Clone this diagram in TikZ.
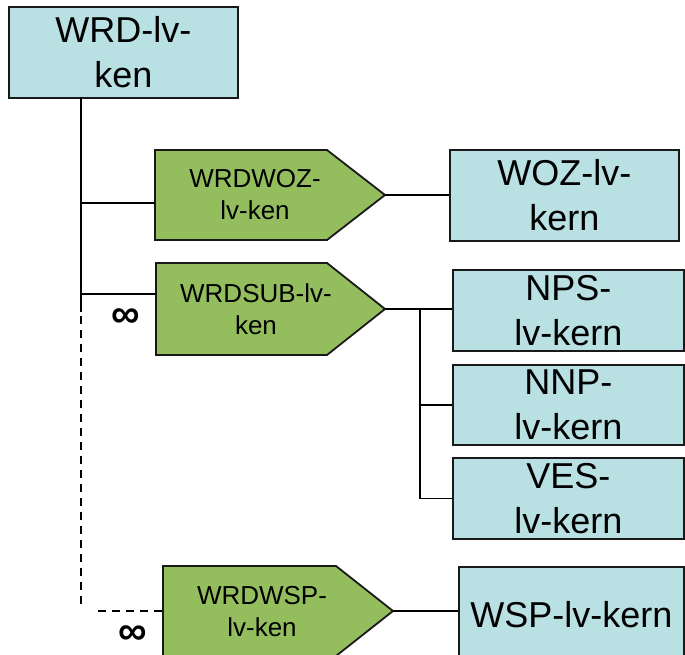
\documentclass[tikz,border=0pt]{standalone}
\usepackage{fontspec}
\setmainfont{Liberation Sans}
\definecolor{boxblue}{HTML}{B9E0E3}
\definecolor{pentgreen}{HTML}{94BE5E}
\tikzset{
  bluebox/.style={draw=black!90, line width=1.8pt, fill=boxblue, inner sep=0pt, align=center, anchor=north west, font=\fontsize{36}{45}\selectfont},
  pentshape/.style={draw=black!90, line width=1.8pt, fill=pentgreen, line join=miter},
  penttext/.style={inner sep=0pt, align=center, font=\fontsize{26}{32}\selectfont},
  conn/.style={line width=1.5pt, black},
  dconn/.style={line width=1.5pt, black, dash pattern=on 8pt off 6pt},
  inf/.style={inner sep=0pt, font=\fontsize{40}{40}\selectfont\bfseries}
}
\begin{document}
\begin{tikzpicture}[x=1pt,y=-1pt]
\clip (0,0) rectangle (685,655);
\fill[white] (0,0) rectangle (685,655);
% top box
\node[bluebox, minimum width=229pt, minimum height=91pt] (wrd) at (8,6) {WRD-lv-\\ken};
% pentagons
\draw[pentshape] (155,150) -- (327,150) -- (385,195) -- (327,240) -- (155,240) -- cycle;
\node[penttext] (woz) at (255,195) {WRDWOZ-\\lv-ken};
\coordinate (wozl) at (155,203);
\coordinate (wozt) at (385,195);
\draw[pentshape] (156,263) -- (327,263) -- (385,309) -- (327,355) -- (156,355) -- cycle;
\node[penttext] (sub) at (256,309) {WRDSUB-lv-\\ken};
\coordinate (subl) at (156,294);
\coordinate (subt) at (385,309);
\draw[pentshape] (163,566) -- (336,566) -- (393,611) -- (336,656) -- (163,656) -- cycle;
\node[penttext] (wsp) at (262,612) {WRDWSP-\\lv-ken};
\coordinate (wspl) at (163,611);
\coordinate (wspt) at (393,611);
% right boxes
\node[bluebox, minimum width=229pt, minimum height=91pt] (wozk) at (449,149) {WOZ-lv-\\kern};
\node[bluebox, minimum width=231pt, minimum height=81pt] (nps) at (452,269) {NPS-\\lv-kern};
\node[bluebox, minimum width=231pt, minimum height=80pt] (nnp) at (452,364) {NNP-\\lv-kern};
\node[bluebox, minimum width=231pt, minimum height=81pt] (ves) at (452,457) {VES-\\lv-kern};
\node[bluebox, minimum width=225pt, minimum height=96pt] (wspk) at (458,566) {WSP-lv-kern};
% trunk
\coordinate (t0) at (81,97);
\coordinate (t1) at (81,312);
\coordinate (t2) at (81,605);
\coordinate (t3) at (98,611);
\draw[conn] (t0) -- (t1);
\draw[conn] (wozl -| t0) -- (wozl);
\draw[conn] (subl -| t0) -- (subl);
\draw[dconn] (t1) ++(0,4) -- (t2);
\draw[dconn] (t3) -- (wspl);
% infinity marks
\node[inf] (inf1) at (126,318) {∞};
\node[inf] (inf2) at (133,635) {∞};
% right connectors
\draw[conn] (wozt) -- (wozt -| wozk.west);
\coordinate (br) at (420,309);
\draw[conn] (subt) -- (br) -- (br -| nps.west);
\draw[conn] (br) -- (br |- ves.west) -- (ves.west);
\draw[conn] (br |- nnp.west) -- (nnp.west);
\draw[conn] (wspt) -- (wspt -| wspk.west);
\end{tikzpicture}
\end{document}
